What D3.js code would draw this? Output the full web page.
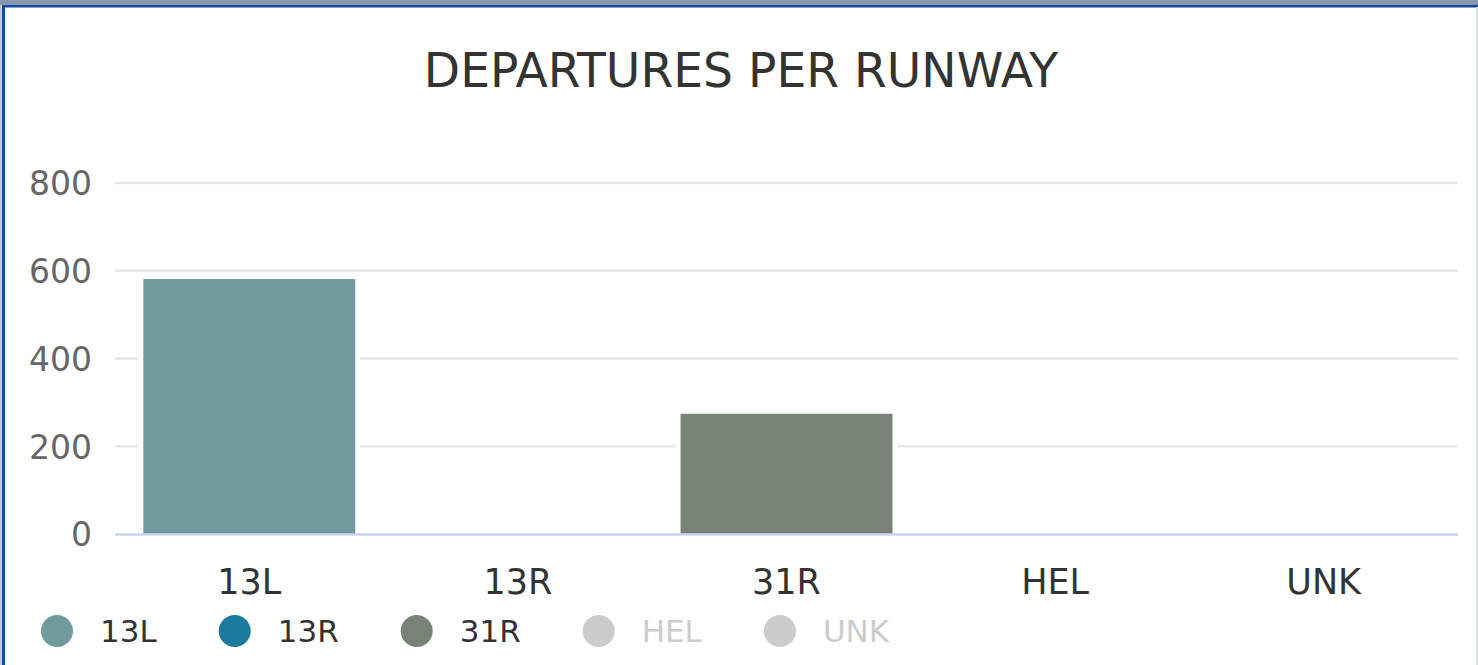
<!DOCTYPE html>
<html>
<head>
<meta charset="utf-8">
<script src="https://cdn.jsdelivr.net/npm/d3@7"></script>
<style>
html,body{margin:0;padding:0;background:#fff;overflow:hidden;}
text{font-family:"DejaVu Sans",sans-serif;}
</style>
</head>
<body>
<svg id="chart" width="1478" height="665"></svg>
<script>
const categories = ["13L", "13R", "31R", "HEL", "UNK"];
const values = [581, 0, 274, 0, 0];
const seriesColors = ["#6f9a9e", "#1a7b9c", "#788276", "#cccccc", "#cccccc"];
const seriesVisible = [true, true, true, false, false];
const yTicks = [0, 200, 400, 600, 800];
const title = "DEPARTURES PER RUNWAY";

const W = 1478, H = 665;
const FONT = "'DejaVu Sans',sans-serif";
const svg = d3.select("#chart");

// frame
svg.append("rect").attr("x",0).attr("y",0).attr("width",W).attr("height",H).attr("fill","#ffffff");
svg.append("rect").attr("x",0).attr("y",0).attr("width",W).attr("height",5).attr("fill","#8797ae");
svg.append("rect").attr("x",0).attr("y",5).attr("width",W).attr("height",2.5).attr("fill","#13479c");
svg.append("rect").attr("x",0).attr("y",5).attr("width",2).attr("height",H).attr("fill","#c8ccd2");
svg.append("rect").attr("x",2).attr("y",5).attr("width",3).attr("height",H).attr("fill","#1a4c9e");
svg.append("rect").attr("x",1476).attr("y",7).attr("width",2).attr("height",H).attr("fill","#dde3ea");

// title
svg.append("text").attr("x",741).attr("y",87).attr("text-anchor","middle")
  .attr("font-size",47.2).attr("fill","#333333").attr("font-family",FONT).text(title);

const x = d3.scaleBand().domain(categories).range([115,1458]).paddingInner(0.211).paddingOuter(0.1055);
const y = d3.scaleLinear().domain([0,800]).range([534,183]);

// gridlines
const grid = svg.append("g");
grid.selectAll("line").data(yTicks.filter(d=>d>0)).join("line")
  .attr("x1",115).attr("x2",1458).attr("y1",d=>y(d)).attr("y2",d=>y(d))
  .attr("stroke","#e6e6e6").attr("stroke-width",2.5);

// y axis labels
const yAxis = d3.axisLeft(y).tickValues(yTicks).tickSize(0).tickPadding(0);
const yg = svg.append("g").attr("transform","translate(92,0)").call(yAxis);
yg.select(".domain").remove();
yg.selectAll("text").attr("font-size",33).attr("fill","#666666")
  .attr("font-family",FONT).attr("dy","0.36em");

// bars with white halo
const barData = categories.map((c,i)=>({c, v: values[i], color: seriesColors[i]})).filter(d=>d.v>0);
svg.append("g").selectAll("rect").data(barData).join("rect")
  .attr("x",d=>x(d.c)-5).attr("width",x.bandwidth()+10)
  .attr("y",d=>y(d.v)-5).attr("height",d=>y(0)-y(d.v)+5)
  .attr("fill","#ffffff");
svg.append("g").selectAll("rect").data(barData).join("rect")
  .attr("x",d=>x(d.c)).attr("width",x.bandwidth())
  .attr("y",d=>y(d.v)).attr("height",d=>y(0)-y(d.v))
  .attr("fill",d=>d.color);

// x axis
svg.append("line").attr("x1",115).attr("x2",1458).attr("y1",y(0)+0.5).attr("y2",y(0)+0.5)
  .attr("stroke","#ccd6eb").attr("stroke-width",2.5);
const xAxis = d3.axisBottom(x).tickSize(0).tickPadding(0);
const xg = svg.append("g").call(xAxis);
xg.select(".domain").remove();
xg.selectAll("text").attr("y",594).attr("dy",0).attr("font-size",35).attr("fill","#333333")
  .attr("font-family",FONT);

// legend
const legend = svg.append("g");
let cx = 57;
categories.forEach((c,i)=>{
  const g = legend.append("g");
  g.append("circle").attr("cx",cx).attr("cy",631).attr("r",16)
    .attr("fill", seriesVisible[i] ? seriesColors[i] : "#cccccc");
  const t = g.append("text").attr("x",cx+43).attr("y",642).attr("font-size",31)
    .attr("font-family",FONT)
    .attr("fill", seriesVisible[i] ? "#333333" : "#cccccc").text(c);
  const w = t.node().getComputedTextLength();
  cx = cx + 43 + w + 78;
});
</script>
</body>
</html>
